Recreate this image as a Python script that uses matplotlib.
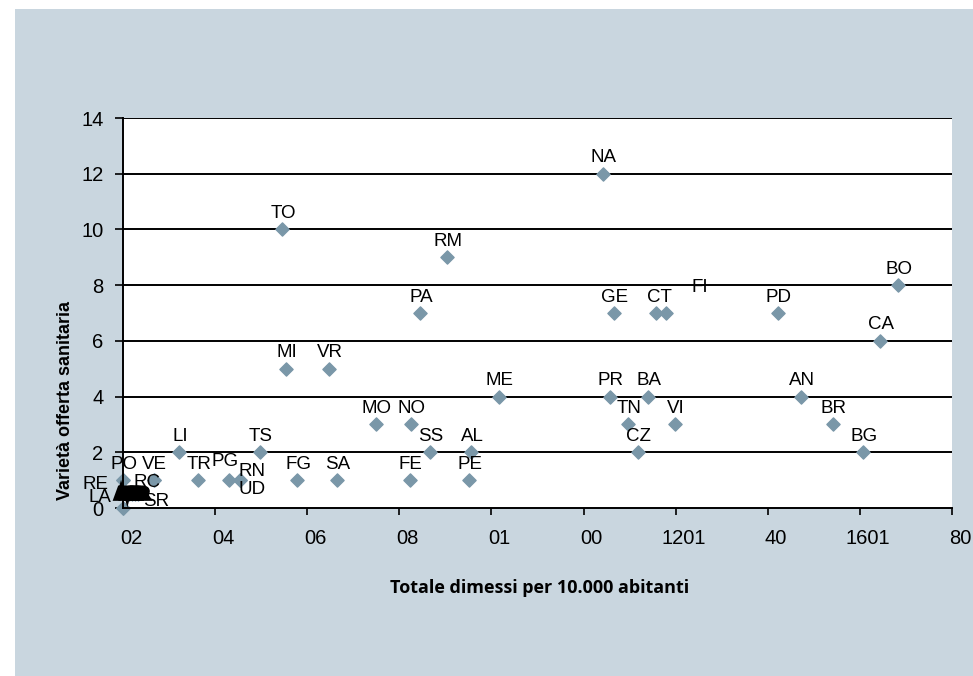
import matplotlib
matplotlib.use("Agg")
import matplotlib.pyplot as plt
import matplotlib.patheffects as pe
from matplotlib.patches import Rectangle

# Province codes, discharges per 10,000 inhabitants, variety of healthcare offer
names = ["PO", "RE", "LA", "SR", "VE", "RC", "LI", "TR", "PG", "RN", "UD", "TS",
         "TO", "MI", "FG", "VR", "SA", "MO", "FE", "NO", "PA", "SS", "RM", "PE",
         "AL", "ME", "NA", "PR", "GE", "TN", "CZ", "BA", "CT", "FI", "VI", "PD",
         "AN", "BR", "BG", "CA", "BO"]
dimessi = [20.0, 20.0, 20.0, 20.0, 26.7, 26.7, 32.2, 36.3, 43.0, 45.4, 45.4, 49.7,
           54.6, 55.4, 57.8, 64.7, 66.5, 74.9, 82.3, 82.5, 84.5, 86.7, 90.3, 95.1,
           95.6, 101.6, 124.2, 125.7, 126.6, 129.6, 131.8, 134.0, 135.7, 137.9, 139.8, 162.2,
           167.3, 174.1, 180.7, 184.4, 188.3]
varieta = [1, 1, 0, 0, 1, 1, 2, 1, 1, 1, 1, 2,
           10, 5, 1, 5, 1, 3, 1, 3, 7, 2, 9, 1,
           2, 4, 12, 4, 7, 3, 2, 4, 7, 7, 3, 7,
           4, 3, 2, 6, 8]

# crowded labels near the origin
cluster_names = ["AO", "BZ", "VB", "IS", "KR"]
cluster_x = [20.8, 21.4, 22.0, 22.6, 23.2]
cluster_y = [0.5, 0.5, 0.5, 0.5, 0.5]

x_ticks = [20, 40, 60, 80, 100, 120, 140, 160, 180, 200]
x_tick_labels = ["02", "04", "06", "08", "01", "00", "1201", "40", "1601", "80"]
y_ticks = [0, 2, 4, 6, 8, 10, 12, 14]

# label offsets in pixels (default: centred above the marker)
offsets = {"RE": (-28, -4), "LA": (-23, 11), "SR": (33, 6), "RC": (-7, -2),
           "PG": (-4, 19), "RN": (12, 9), "UD": (12, -9), "FI": (34, 26),
           "CT": (4, 16)}

fig = plt.figure(figsize=(9.73, 6.76), dpi=100)
fig.patch.set_facecolor("white")
fig.patches.append(Rectangle((15 / 973, 0), 1, 1 - 9 / 676, transform=fig.transFigure,
                             facecolor="#c9d6df", edgecolor="none", zorder=-10))

ax = fig.add_axes([123 / 973, 1 - 508 / 676, 829 / 973, 390 / 676])
ax.set_facecolor("white")

for yv in y_ticks[1:]:
    ax.axhline(yv, color="black", lw=1.4, zorder=1)

ax.scatter(cluster_x, cluster_y, marker="D", s=45, color="#7a97a8", zorder=2)
ax.scatter(dimessi, varieta, marker="D", s=45, color="#7a97a8", zorder=3, clip_on=False)

lab_font = dict(family="Liberation Sans", fontsize=13.5, color="black")
for n, xv, yv in zip(names, dimessi, varieta):
    dx, dy = offsets.get(n, (1, 16))
    ax.annotate(n, (xv, yv), xytext=(dx * 0.72, dy * 0.72), textcoords="offset points",
                ha="center", va="center", zorder=4, annotation_clip=False, **lab_font)

for n, xv, yv in zip(cluster_names, cluster_x, cluster_y):
    ax.annotate(n, (xv, yv), xytext=(0, 0), textcoords="offset points",
                ha="center", va="center", zorder=5, fontweight="bold",
                path_effects=[pe.withStroke(linewidth=4, foreground="black",
                                            joinstyle="miter")],
                family="Liberation Sans", fontsize=10, color="black")

for side in ["top", "right"]:
    ax.spines[side].set_visible(False)
for side in ["left", "bottom"]:
    ax.spines[side].set_linewidth(1.4)
    ax.spines[side].set_zorder(5)

# tick marks only; the x labels sit a little right of each tick
ax.set_xticks(x_ticks)
ax.set_xticklabels([])
for v, lbl in zip(x_ticks, x_tick_labels):
    ax.annotate(lbl, (v, 0), xycoords=ax.get_xaxis_transform(),
                xytext=(8 * 0.72, -31 * 0.72), textcoords="offset points",
                ha="center", va="center", annotation_clip=False,
                family="Liberation Sans", fontsize=14.5)
ax.set_yticks(y_ticks)
ax.set_yticklabels([str(v) for v in y_ticks], family="Liberation Sans", fontsize=14.5)
ax.tick_params(axis="x", direction="out", length=5, width=1.2)
ax.tick_params(axis="y", direction="out", length=6, width=1.2, pad=8)
ax.set_xlim(20, 200)
ax.set_ylim(0, 14)

fig.text(540 / 973, 1 - 588 / 676, "Totale dimessi per 10.000 abitanti",
         family="Open Sans", fontweight="bold", fontsize=13, ha="center", va="center")
fig.text(65 / 973, 1 - 400 / 676, "Varietà offerta sanitaria", family="Liberation Sans",
         fontweight="bold", fontsize=13, rotation=90, ha="center", va="center")

fig.savefig("out.png", dpi=100, facecolor=fig.get_facecolor())
